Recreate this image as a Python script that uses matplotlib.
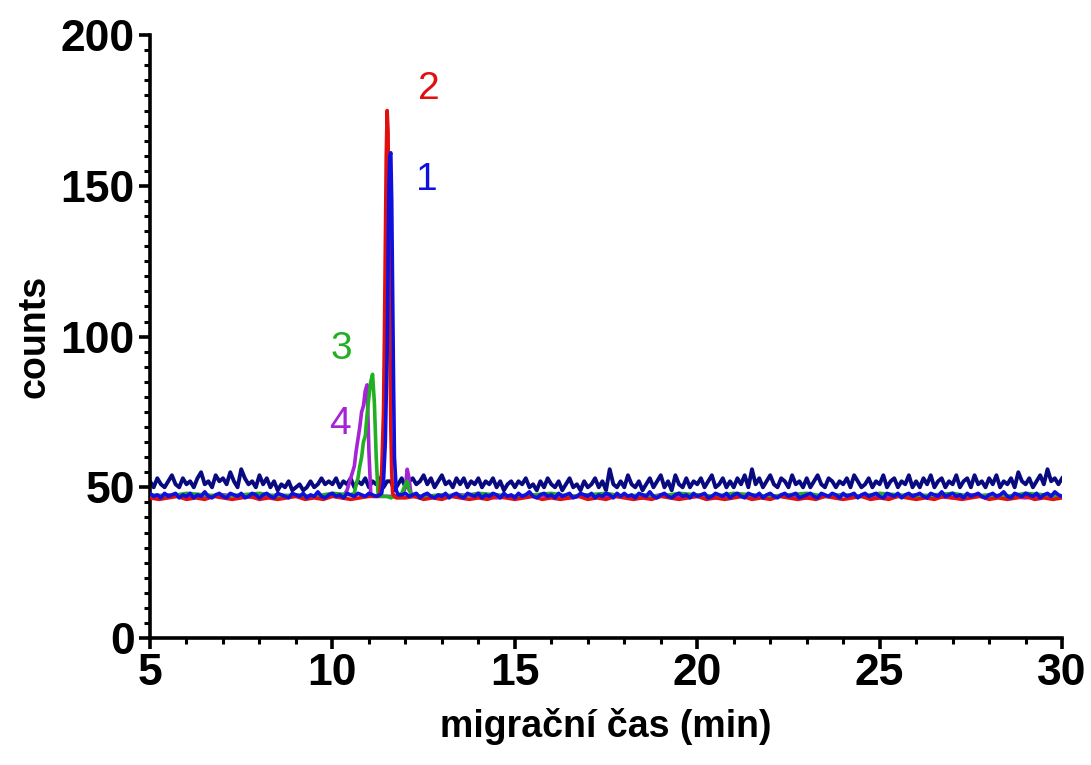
import numpy as np
import matplotlib.pyplot as plt
from matplotlib.ticker import MultipleLocator

# time grids (min)
t_fine = np.round(np.arange(5, 30.001, 0.1), 2)
t_mid = np.round(np.arange(5, 30.001, 0.25), 2)
t_coarse = np.round(np.arange(5, 30.001, 0.5), 2)

# navy trace (blank / noisy baseline)
navy_vals = [
    52, 50, 53, 51, 50, 52, 54, 51, 50, 53,
    51, 52, 50, 53, 55, 51, 52, 50, 54, 52,
    53, 51, 55, 52, 50, 56, 53, 51, 52, 50,
    54, 51, 53, 50, 52, 49, 51, 50, 52, 49,
    50, 51, 49, 50, 52, 50, 51, 53, 51, 52,
    51, 53, 50, 52, 51, 53, 50, 52, 51, 53,
    50, 52, 51, 53, 50, 52, 52, 49, 51, 53,
    50, 52, 53, 51, 52, 54, 51, 53, 50, 52,
    54, 51, 52, 50, 53, 51, 53, 50, 52, 51,
    53, 50, 52, 51, 53, 50, 52, 49, 51, 52,
    50, 52, 51, 53, 50, 51, 49, 52, 50, 53,
    51, 50, 52, 49, 51, 53, 50, 51, 49, 52,
    50, 51, 53, 50, 52, 49, 56, 51, 50, 52,
    50, 54, 51, 50, 52, 49, 51, 53, 50, 52,
    54, 50, 52, 49, 54, 51, 50, 53, 50, 52,
    51, 53, 50, 52, 54, 50, 51, 53, 50, 52,
    50, 53, 51, 54, 50, 56, 51, 53, 50, 52,
    54, 51, 50, 53, 52, 50, 54, 51, 52, 50,
    53, 50, 52, 54, 51, 50, 53, 52, 50, 52,
    51, 53, 50, 54, 52, 50, 51, 53, 50, 52,
    51, 54, 50, 52, 53, 50, 52, 51, 54, 50,
    52, 50, 53, 51, 54, 50, 52, 53, 50, 52,
    51, 54, 50, 52, 53, 50, 54, 51, 52, 50,
    53, 51, 54, 50, 52, 51, 53, 50, 55, 52,
    51, 53, 50, 52, 54, 51, 56, 52, 53, 51,
    53,
]

# blue trace (1) baseline
blue_base = [
    48, 47, 47.5, 46.5, 48, 47, 47.5, 48, 46.5, 47.5,
    47, 48, 46.5, 47.5, 47, 48.5, 47, 46.5, 47.5, 48,
    47, 46.5, 48, 47.5, 47, 48, 46.5, 47, 48, 47.5,
    46.5, 47.5, 48, 47, 46.5, 48, 47.5, 47, 46.5, 48,
    47.5, 47, 48, 46.5, 47.5, 47, 48.5, 47, 46.5, 47.5,
    48, 47, 47.5, 46.5, 48, 47.5, 47, 48, 47.5, 47,
    48, 47.5, 47, 48, 47.5, 47, 47.5, 48, 47, 47.5,
    48, 47, 47.5, 48, 46.5, 47.5, 48, 47, 46.5, 47.5,
    47, 48, 46.5, 47.5, 48, 47, 46.5, 48, 47.5, 47,
    48, 46.5, 47.5, 47, 48, 47.5, 46.5, 48, 47, 47.5,
    46.5, 48, 47, 47.5, 48.5, 47, 46.5, 47.5, 48, 47,
    47.5, 46.5, 48, 47, 47.5, 48, 46.5, 47, 48, 47.5,
    47, 48, 46.5, 47.5, 47, 48, 47.5, 46.5, 48, 47,
    48, 47, 47.5, 46.5, 48, 47.5, 47, 48.5, 47, 46.5,
    47.5, 48, 47, 46.5, 47.5, 48, 47, 47.5, 46.5, 48,
    47, 47.5, 48, 46.5, 47, 48, 47.5, 47, 48, 46.5,
    47.5, 48, 47, 46.5, 48, 47.5, 47, 48, 46.5, 47.5,
    48, 47, 46.5, 47.5, 48, 47, 47.5, 48, 46.5, 47,
    47.5, 48, 47, 46.5, 48, 47.5, 47, 48, 47.5, 46.5,
    48, 47, 47.5, 48, 46.5, 47.5, 48, 47, 47.5, 48,
    47, 46.5, 48, 47.5, 47, 48, 46.5, 47.5, 48, 47,
    47.5, 48, 47, 46.5, 48, 47.5, 47, 48.5, 47, 47.5,
    48, 47, 47.5, 46.5, 48, 47, 47.5, 48, 47, 46.5,
    47.5, 48, 47, 47.5, 48.5, 47, 46.5, 48, 47.5, 47,
    48, 47.5, 47, 48, 46.5, 47.5, 48, 47, 48.5, 47.5,
    47,
]
blue_pk_t = [11.3, 11.35, 11.4, 11.45, 11.5, 11.525, 11.55, 11.575, 11.6, 11.625,
             11.65, 11.675, 11.7, 11.75, 11.8]
blue_pk_v = [47.5, 48, 52, 65, 95, 125, 150, 160, 161, 145, 115, 85, 60, 49, 47.5]

# red trace (2)
red_base = [
    46.5, 46, 46.5, 47, 46, 46.5, 46, 47, 46.5, 46,
    46.5, 47, 46, 46.5, 46, 46.5, 47, 46, 46.5, 46,
    47, 46.5, 46, 46.5, 47, 46, 46.5, 46, 46.5, 47,
    46, 46.5, 46, 47, 46.5, 46, 46.5, 46, 47, 46.5,
    46, 46.5, 47, 46, 46.5, 46, 46.5, 47, 46, 46.5,
    46, 47, 46.5, 46, 46.5, 46, 47, 46.5, 46, 46.5,
    47, 46, 46.5, 46, 46.5, 47, 46, 46.5, 46, 47,
    46.5, 46, 46.5, 46, 47, 46.5, 46, 46.5, 47, 46,
    46.5, 46, 47, 46.5, 46, 46.5, 46, 47, 46.5, 46,
    46.5, 47, 46, 46.5, 46, 46.5, 47, 46, 46.5, 46,
    46.5,
]
red_pk_t = [11.25, 11.3, 11.35, 11.4, 11.425, 11.45, 11.475, 11.5, 11.525, 11.55,
            11.575, 11.6, 11.625, 11.65, 11.7, 11.75]
red_pk_v = [47, 48, 55, 75, 100, 130, 160, 175, 168, 135, 100, 70, 55, 48, 47, 46.5]

# green trace (3)
green_base = [
    47.5, 47, 48, 47.5, 47, 47.5, 48, 47, 47.5, 47,
    48, 47.5, 47, 47.5, 48, 47, 47.5, 47, 48, 47.5,
    47, 47.5, 48, 47, 47.5, 48, 47, 47.5, 47, 48,
    47.5, 47, 48, 47.5, 47, 47.5, 48, 47, 47.5, 47,
    48, 47.5, 47, 47.5, 48, 47, 47.5, 47, 48, 47.5,
    47,
]
green_pk_t = [10.5, 10.6, 10.65, 10.7, 10.75, 10.8, 10.85, 10.9, 10.95, 11.0,
              11.05, 11.1, 11.15, 11.2, 11.25, 11.3, 11.4, 11.5, 11.6, 11.7,
              11.8, 11.9, 12.0, 12.05, 12.1, 12.2]
green_pk_v = [47.5, 48, 51, 53, 57, 60, 65, 67, 74, 80,
              85, 87.5, 78, 60, 48, 47, 47, 47, 46.5, 47,
              47.5, 48, 51, 52, 49, 47.5]

# purple trace (4)
purple_base = [
    47, 47.5, 46.5, 47, 47.5, 47, 46.5, 47.5, 47, 47,
    47.5, 46.5, 47, 47.5, 47, 46.5, 47, 47.5, 47, 46.5,
    47, 47.5, 47, 46.5, 47.5, 47, 47, 46.5, 47.5, 47,
    47, 46.5, 47.5, 47, 47, 47.5, 46.5, 47, 47.5, 47,
    46.5, 47, 47.5, 47, 46.5, 47.5, 47, 47, 46.5, 47.5,
    47,
]
purple_pk_t = [10.3, 10.4, 10.45, 10.5, 10.55, 10.6, 10.65, 10.7, 10.75, 10.8,
               10.85, 10.9, 10.95, 11.0, 11.05, 11.1, 11.9, 12.0, 12.05, 12.1,
               12.15, 12.2]
purple_pk_v = [47, 49, 51, 53, 55, 57, 62, 66, 70, 75,
               77, 82, 84, 62, 48, 47, 47, 50, 56, 53,
               48, 47]

peak_labels = ['1', '2', '3', '4']
label_x = [12.6, 12.65, 10.24, 10.21]
label_y = [152, 182, 96, 71]


def trace(bt, bv, pt, pv):
    bt = np.asarray(bt, float)
    bv = np.asarray(bv, float)
    keep = (bt < min(pt)) | (bt > max(pt))
    x = np.concatenate([bt[keep], pt])
    y = np.concatenate([bv[keep], pv])
    order = np.argsort(x)
    return x[order], y[order]


plt.rcParams['font.family'] = ['Liberation Sans', 'DejaVu Sans']

fig = plt.figure(figsize=(10.91, 7.65), dpi=100)
ax = fig.add_axes([0.1375, 0.166, 0.836, 0.788])

navy = '#0a0a80'
blue = '#1010dd'
red = '#e01010'
green = '#22b022'
purple = '#a424d6'

ax.plot(t_fine, navy_vals, color=navy, lw=2.8, zorder=2)
x, y = trace(t_coarse, purple_base, purple_pk_t, purple_pk_v)
ax.plot(x, y, color=purple, lw=2.6, zorder=3)
x, y = trace(t_coarse, green_base, green_pk_t, green_pk_v)
ax.plot(x, y, color=green, lw=2.6, zorder=3)
x, y = trace(t_mid, red_base, red_pk_t, red_pk_v)
ax.plot(x, y, color=red, lw=2.6, zorder=4)
x, y = trace(t_fine, blue_base, blue_pk_t, blue_pk_v)
ax.plot(x, y, color=blue, lw=2.6, zorder=5)

for lab, lx, ly, c in zip(peak_labels, label_x, label_y, [blue, red, green, purple]):
    ax.text(lx, ly, lab, color=c, fontsize=28, ha='center', va='center')

ax.set_xlim(5, 30)
ax.set_ylim(0, 200)
ax.xaxis.set_major_locator(MultipleLocator(5))
ax.xaxis.set_minor_locator(MultipleLocator(1))
ax.yaxis.set_major_locator(MultipleLocator(50))
ax.yaxis.set_minor_locator(MultipleLocator(5))

for s in ['top', 'right']:
    ax.spines[s].set_visible(False)
for s in ['left', 'bottom']:
    ax.spines[s].set_linewidth(2.6)

ax.tick_params(which='major', length=8, width=2.6, labelsize=32, pad=3)
ax.tick_params(which='minor', length=4.5, width=2.2)
for lab in ax.get_xticklabels() + ax.get_yticklabels():
    lab.set_fontweight('bold')

ax.set_xlabel('migrační čas (min)', fontsize=27, fontweight='bold', labelpad=10)
ax.set_ylabel('counts', fontsize=27, fontweight='bold', labelpad=6)

fig.savefig('out.png', dpi=100)
